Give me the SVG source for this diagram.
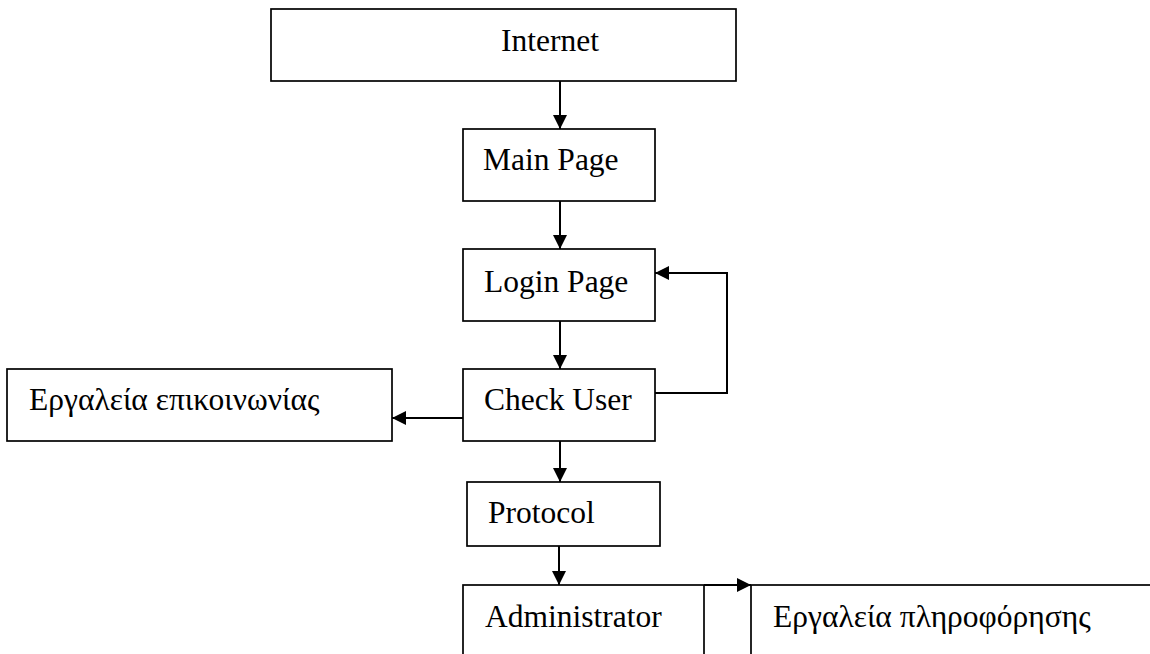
<svg xmlns="http://www.w3.org/2000/svg" width="1150" height="654" viewBox="0 0 1150 654">
  <defs>
    <style>
      .box { fill: #ffffff; stroke: #000000; stroke-width: 1.7; }
      .lbl { font-family: "Liberation Serif", "Times New Roman", serif; font-size: 31.5px; fill: #000000; }
      .edge { fill: none; stroke: #000000; stroke-width: 2; }
    </style>
    <marker id="arrow" viewBox="0 0 10 10" refX="10" refY="5" markerUnits="userSpaceOnUse" markerWidth="15" markerHeight="14" orient="auto">
      <path d="M0,0 L10,5 L0,10 Z" fill="#000000"/>
    </marker>
  </defs>
  <rect width="1150" height="654" fill="#ffffff"/>

  <g id="internet">
    <rect class="box" x="271" y="9" width="465" height="72"/>
    <text class="lbl" x="550" y="51" text-anchor="middle">Internet</text>
  </g>
  <g id="main-page">
    <rect class="box" x="463" y="129" width="192" height="72"/>
    <text class="lbl" x="483" y="170">Main Page</text>
  </g>
  <g id="login-page">
    <rect class="box" x="463" y="249" width="192" height="72"/>
    <text class="lbl" x="484" y="292">Login Page</text>
  </g>
  <g id="check-user">
    <rect class="box" x="463" y="369" width="192" height="72"/>
    <text class="lbl" x="484" y="410">Check User</text>
  </g>
  <g id="communication-tools">
    <rect class="box" x="7" y="369" width="385" height="72"/>
    <text class="lbl" x="29" y="410">Εργαλεία επικοινωνίας</text>
  </g>
  <g id="protocol">
    <rect class="box" x="467" y="482" width="193" height="64"/>
    <text class="lbl" x="488" y="523">Protocol</text>
  </g>
  <g id="administrator">
    <rect class="box" x="463" y="585" width="241" height="90"/>
    <text class="lbl" x="485" y="627">Administrator</text>
  </g>
  <g id="information-tools">
    <rect class="box" x="751" y="585" width="420" height="90"/>
    <text class="lbl" x="773" y="627">Εργαλεία πληροφόρησης</text>
  </g>

  <g id="connectors">
    <line class="edge" x1="560" y1="81" x2="560" y2="129" marker-end="url(#arrow)"/>
    <line class="edge" x1="560" y1="201" x2="560" y2="249" marker-end="url(#arrow)"/>
    <line class="edge" x1="560" y1="321" x2="560" y2="369" marker-end="url(#arrow)"/>
    <polyline class="edge" points="655,393 727,393 727,273 655,273" marker-end="url(#arrow)"/>
    <line class="edge" x1="463" y1="418" x2="392" y2="418" marker-end="url(#arrow)"/>
    <line class="edge" x1="560" y1="441" x2="560" y2="482" marker-end="url(#arrow)"/>
    <line class="edge" x1="559" y1="546" x2="559" y2="585" marker-end="url(#arrow)"/>
    <line class="edge" x1="704" y1="585" x2="751" y2="585" marker-end="url(#arrow)"/>
  </g>
</svg>
